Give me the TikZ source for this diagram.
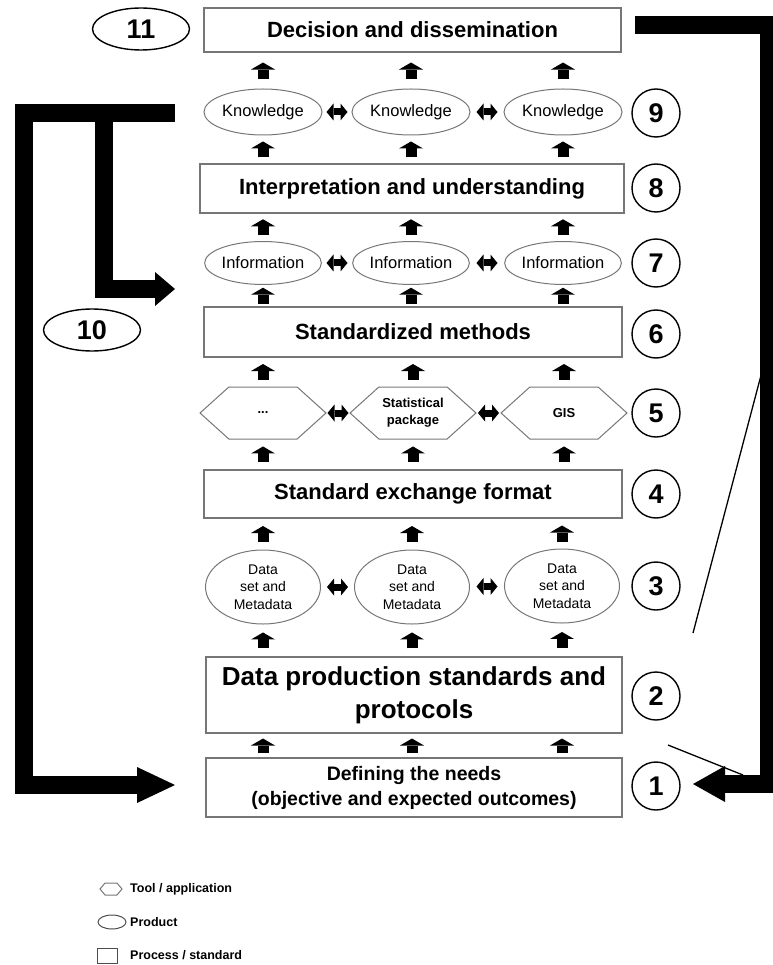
\documentclass[tikz,border=0pt]{standalone}
\usepackage{fontspec}
\setmainfont{Liberation Sans}
\usetikzlibrary{arrows.meta,shapes.geometric,shapes.symbols,calc}
\definecolor{boxgray}{RGB}{118,118,118}

% upward block arrow centred in the gap between two anchors
\newcommand\flowup[3][8]{\draw[uparr] ($(#2)!.5!(#3)+(0,#1)$) -- ($(#2)!.5!(#3)+(0,-#1)$);}
% two-headed exchange arrow centred between two neighbouring nodes
\newcommand\xchg[2]{\draw[dblarr] ($(#1.east)!.5!(#2.west)+(-10.5,0)$) -- ($(#1.east)!.5!(#2.west)+(10.5,0)$);}

\begin{document}
\begin{tikzpicture}[x=1pt,y=-1pt,
  procbox/.style={draw=boxgray, line width=1.1pt, fill=white, inner sep=0pt, align=center,
    font=\bfseries\fontsize{22}{26}\selectfont},
  prod/.style={ellipse, draw=boxgray, line width=1pt, inner sep=0pt, align=center,
    minimum width=118pt, minimum height=46pt, font=\fontsize{16.5}{20}\selectfont},
  tool/.style={signal, signal to=west and east, signal pointer angle=84, draw=boxgray,
    line width=1pt, inner sep=0pt, align=center, minimum width=126pt, minimum height=52pt,
    font=\bfseries\fontsize{13}{17}\selectfont},
  num/.style={circle, draw, line width=1.4pt, minimum size=48pt, inner sep=0pt,
    font=\bfseries\fontsize{27}{27}\selectfont},
  numov/.style={ellipse, draw, line width=1.4pt, minimum width=97pt, minimum height=42pt,
    inner sep=0pt, font=\bfseries\fontsize{27}{27}\selectfont},
  uparr/.style={line width=11pt, -{Triangle[length=7pt 0 0, width=24pt 0 0, line width=0pt 0 0]}},
  dblarr/.style={line width=7pt,
    {Triangle[length=7pt 0 0, width=17pt 0 0, line width=0pt 0 0]}-{Triangle[length=7pt 0 0, width=17pt 0 0, line width=0pt 0 0]}},
  bigarr/.style={line width=18pt, line join=miter,
    -{Triangle[length=#1 0 0, width=36pt 0 0, line width=0pt 0 0]}},
  thinline/.style={line width=1.3pt},
  legendtext/.style={anchor=west, inner sep=0pt, font=\bfseries\fontsize{12.5}{14}\selectfont}
]
\useasboundingbox (0,0) rectangle (772,965);

% process / standard boxes
\node[procbox, minimum width=417pt, minimum height=44pt] (b11) at (412.5,30) {Decision and dissemination};
\node[procbox, minimum width=424pt, minimum height=49pt] (b8) at (412,188.5) {Interpretation and understanding};
\node[procbox, minimum width=418pt, minimum height=50pt] (b6) at (413,332) {Standardized methods};
\node[procbox, minimum width=418pt, minimum height=48pt] (b4) at (413,494) {Standard exchange format};
\node[procbox, minimum width=416pt, minimum height=76pt,
      font=\bfseries\fontsize{26}{33}\selectfont] (b2) at (414,695) {Data production standards and\\protocols};
\node[procbox, minimum width=416pt, minimum height=59pt,
      font=\bfseries\fontsize{19.5}{25}\selectfont] (b1) at (414,787.5) {Defining the needs\\(objective and expected outcomes)};

% products and tools
\node[prod] (k1) at (263,112) {Knowledge};
\node[prod] (k2) at (411,112) {Knowledge};
\node[prod] (k3) at (563,112) {Knowledge};

\node[prod, minimum width=114pt, minimum height=43pt] (i1) at (263,263) {Information};
\node[prod, minimum width=114pt, minimum height=43pt] (i2) at (411,263) {Information};
\node[prod, minimum width=114pt, minimum height=43pt] (i3) at (563,263) {Information};

\node[tool] (h1) at (263,413) {...};
\node[tool] (h2) at (413,413) {Statistical\\package};
\node[tool] (h3) at (564,413) {GIS};

\node[prod, minimum width=115pt, minimum height=74pt, font=\fontsize{14}{17.5}\selectfont] (d1) at (263,587) {Data\\set and\\Metadata};
\node[prod, minimum width=115pt, minimum height=74pt, font=\fontsize{14}{17.5}\selectfont] (d2) at (412,587) {Data\\set and\\Metadata};
\node[prod, minimum width=115pt, minimum height=74pt, font=\fontsize{14}{17.5}\selectfont] (d3) at (562,586) {Data\\set and\\Metadata};

% step numbers
\node[num] (n9) at (656,113) {9};
\node[num] (n8) at (656,188) {8};
\node[num] (n7) at (656,263) {7};
\node[num] (n6) at (656,334) {6};
\node[num] (n5) at (656,413) {5};
\node[num] (n4) at (656,494) {4};
\node[num] (n3) at (656,586) {3};
\node[num] (n2) at (656,696) {2};
\node[num] (n1) at (656,786) {1};
\node[numov] (n11) at (141,29) {11};
\node[numov] (n10) at (92,330) {10};

% upward flow arrows in each column
\foreach \c in {1,2,3} {
  \flowup[7]{d\c |- b1.north}{d\c |- b2.south}
  \flowup{d\c |- b2.north}{d\c.south}
  \flowup{d\c.north}{d\c |- b4.south}
  \flowup{h\c |- b4.north}{h\c.south}
  \flowup{h\c.north}{h\c |- b6.south}
  \flowup{i\c |- b6.north}{i\c.south}
  \flowup{i\c.north}{i\c |- b8.south}
  \flowup{k\c |- b8.north}{k\c.south}
  \flowup{k\c.north}{k\c |- b11.south}
}

% exchange arrows between neighbours
\xchg{k1}{k2} \xchg{k2}{k3}
\xchg{i1}{i2} \xchg{i2}{i3}
\xchg{h1}{h2} \xchg{h2}{h3}
\xchg{d1}{d2} \xchg{d2}{d3}

% feedback loops
\coordinate (rs) at (635,25);
\coordinate (rc) at (769,784);
\coordinate (rt) at (693,784);
\draw[bigarr=32pt] (rs) -| (rc) -- (rt);

\coordinate (ls) at (175,113);
\coordinate (lc) at (24,785);
\coordinate (lt) at (175,785);
\draw[bigarr=38pt] (ls) -| (lc) -- (lt);

\coordinate (bs) at (104,113);
\coordinate (bt) at (175,289);
\draw[line width=18pt, line join=miter,
      -{Triangle[length=20pt 0 0, width=34pt 0 0, line width=0pt 0 0]}] (bs) |- (bt);

% thin strokes
\coordinate (ta) at (693,633);
\coordinate (tb) at (769,345);
\coordinate (tc) at (668,745);
\coordinate (td) at (743,775);
\draw[thinline] (ta) -- (tb);
\draw[thinline] (tc) -- (td);

% legend
\node[tool, minimum width=22pt, minimum height=12pt, signal pointer angle=100] (lg1) at (111,889) {};
\node[prod, minimum width=28pt, minimum height=14pt, draw=black!70] (lg2) at (112,922) {};
\node[draw=black!70, line width=1pt, minimum width=20pt, minimum height=15pt, inner sep=0pt] (lg3) at (107,956) {};
\node[legendtext] (lt1) at (130,889) {Tool / application};
\node[legendtext] (lt2) at (130,922) {Product};
\node[legendtext] (lt3) at (130,955) {Process / standard};
\end{tikzpicture}
\end{document}
